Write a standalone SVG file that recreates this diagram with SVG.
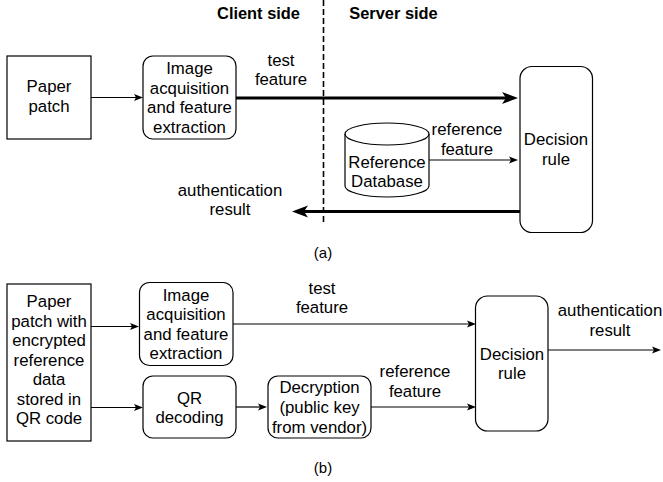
<svg xmlns="http://www.w3.org/2000/svg" width="663" height="482" viewBox="0 0 663 482">
<defs>
<style>
text{font-family:"Liberation Sans",Arial,Helvetica,sans-serif;font-size:16.8px;fill:#000;text-anchor:middle}
.b{font-weight:bold;font-size:16.4px}
.s{font-size:15px}
.box{fill:#fff;stroke:#000;stroke-width:1.2}
.thin{fill:none;stroke:#000;stroke-width:1.2}
.thick{fill:none;stroke:#000;stroke-width:3.2}
.dash{fill:none;stroke:#000;stroke-width:1.6;stroke-dasharray:6 3}
</style>
<marker id="ah" markerUnits="userSpaceOnUse" markerWidth="9" markerHeight="8" refX="2" refY="4" orient="auto">
<path d="M0,0.5 L9,4 L0,7.5 L2,4 Z" fill="#000"/>
</marker>
<marker id="ahT" markerUnits="userSpaceOnUse" markerWidth="16" markerHeight="13" refX="4" refY="6.5" orient="auto">
<path d="M0,0.5 L16,6.5 L0,12.5 L4,6.5 Z" fill="#000"/>
</marker>
</defs>
<rect width="663" height="482" fill="#fff"/>

<!-- panel (a) -->
<g id="labels-a">
<text class="b" x="258.5" y="18.5">Client side</text>
<text class="b" x="393.5" y="18.5">Server side</text>
<text class="s" x="323" y="258">(a)</text>
</g>
<g id="connectors-a">
<line class="dash" x1="323.5" y1="0" x2="323.5" y2="222"/>
<line class="thin" x1="91" y1="97.5" x2="136" y2="97.5" marker-end="url(#ah)"/>
<line class="thick" x1="236" y1="98" x2="506" y2="98" marker-end="url(#ahT)"/>
<line class="thin" x1="429" y1="160" x2="511" y2="160" marker-end="url(#ah)"/>
<line class="thick" x1="520" y1="211.5" x2="304" y2="211.5" marker-end="url(#ahT)"/>
<text x="281" y="65.5">test</text>
<text x="281" y="85">feature</text>
<text x="467" y="135">reference</text>
<text x="467" y="155">feature</text>
<text x="230" y="196">authentication</text>
<text x="230" y="215">result</text>
</g>
<g id="a-paper">
<rect class="box" x="7" y="56" width="84" height="83"/>
<text x="49" y="92">Paper</text>
<text x="49" y="111.5">patch</text>
</g>
<g id="a-image">
<rect class="box" x="143" y="56" width="93" height="83" rx="10"/>
<text x="189.5" y="74">Image</text>
<text x="189.5" y="93.5">acquisition</text>
<text x="189.5" y="113">and feature</text>
<text x="189.5" y="132.5">extraction</text>
</g>
<g id="a-db">
<path class="box" d="M345,134 A42,11 0 0 1 429,134 L429,186 A42,11 0 0 1 345,186 Z"/>
<path class="thin" d="M345,134 A42,11 0 0 0 429,134"/>
<text x="387" y="167.5">Reference</text>
<text x="387" y="187">Database</text>
</g>
<g id="a-decision">
<rect class="box" x="520" y="66.5" width="72.5" height="166" rx="12"/>
<text x="556" y="145">Decision</text>
<text x="556" y="165">rule</text>
</g>

<!-- panel (b) -->
<g id="connectors-b">
<line class="thin" x1="91" y1="326.5" x2="132" y2="326.5" marker-end="url(#ah)"/>
<line class="thin" x1="91" y1="407.5" x2="136" y2="407.5" marker-end="url(#ah)"/>
<line class="thin" x1="236" y1="407" x2="260" y2="407" marker-end="url(#ah)"/>
<line class="thin" x1="233" y1="324" x2="469" y2="324" marker-end="url(#ah)"/>
<line class="thin" x1="371" y1="407" x2="469" y2="407" marker-end="url(#ah)"/>
<line class="thin" x1="548" y1="350" x2="654" y2="350" marker-end="url(#ah)"/>
<text x="322" y="294">test</text>
<text x="322" y="313">feature</text>
<text x="415" y="377">reference</text>
<text x="415" y="396.5">feature</text>
<text x="610" y="316">authentication</text>
<text x="610" y="336">result</text>
<text class="s" x="323" y="472.5">(b)</text>
</g>
<g id="b-paper">
<rect class="box" x="7" y="284" width="84" height="157"/>
<text x="49" y="307">Paper</text>
<text x="49" y="326.5">patch with</text>
<text x="49" y="346">encrypted</text>
<text x="49" y="365.5">reference</text>
<text x="49" y="385">data</text>
<text x="49" y="404.5">stored in</text>
<text x="49" y="424">QR code</text>
</g>
<g id="b-image">
<rect class="box" x="139.5" y="282.5" width="93.5" height="83" rx="10"/>
<text x="186" y="300.5">Image</text>
<text x="186" y="320">acquisition</text>
<text x="186" y="339.5">and feature</text>
<text x="186" y="359">extraction</text>
</g>
<g id="b-qr">
<rect class="box" x="143" y="376" width="93" height="62" rx="10"/>
<text x="189.5" y="403.5">QR</text>
<text x="189.5" y="423">decoding</text>
</g>
<g id="b-decrypt">
<rect class="box" x="268" y="376" width="103" height="62" rx="10"/>
<text x="319.5" y="393">Decryption</text>
<text x="319.5" y="413">(public key</text>
<text x="319.5" y="432.5">from vendor)</text>
</g>
<g id="b-decision">
<rect class="box" x="475.5" y="296" width="72.5" height="135" rx="12"/>
<text x="512" y="360">Decision</text>
<text x="512" y="378.5">rule</text>
</g>
</svg>
